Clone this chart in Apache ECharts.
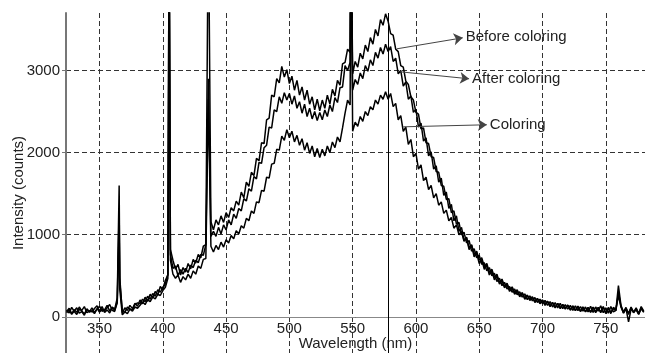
<!DOCTYPE html>
<html><head><meta charset="utf-8">
<script src="https://cdn.jsdelivr.net/npm/echarts@6/dist/echarts.min.js"></script>
<style>html,body{margin:0;padding:0;background:#fff}#c{width:645px;height:353px}</style>
</head><body><div id="c"></div><script>
const wavelengths = [324,326,328,330,332,334,336,338,340,342,
344,346,348,350,352,354,356,358,360,362,
364,365.5,366,368,370,372,374,376,378,380,
382,384,386,388,390,392,394,396,398,400,
402,404,405,406,408,410,412,414,416,418,
420,422,424,426,428,430,432,434,436,438,
440,442,444,446,448,450,452,454,456,458,
460,462,464,466,468,470,472,474,476,478,
480,482,484,486,488,490,492,494,496,498,
500,502,504,506,508,510,512,514,516,518,
520,522,524,526,528,530,532,534,536,538,
540,542,544,546,548,548.6,550,552,554,556,
558,560,562,564,566,568,570,572,574,576,
578,580,582,584,586,588,590,592,594,596,
598,600,602,604,606,608,610,612,614,616,
618,620,622,624,626,628,630,632,634,636,
638,640,642,644,646,648,650,652,654,656,
658,660,662,664,666,668,670,672,674,676,
678,680,682,684,686,688,690,692,694,696,
698,700,702,704,706,708,710,712,714,716,
718,720,722,724,726,728,730,732,734,736,
738,740,742,744,746,748,750,752,754,756,
758,760,762,764,766,768,770,772,774,776,
778,780];

const beforeColoring = [62,105,40,88,55,120,70,35,96,60,
110,52,93,130,68,85,140,72,118,95,
230,1600,480,45,110,78,140,100,165,130,
205,160,240,190,275,232,310,265,370,330,
445,510,5000,820,690,580,640,510,600,545,
650,585,700,655,760,720,860,880,5000,1160,
1060,1180,1120,1230,1150,1270,1210,1330,1290,1410,
1360,1520,1450,1640,1590,1760,1720,1930,1900,2120,
2110,2400,2420,2700,2680,2900,2850,3050,2920,3010,
2840,2930,2760,2880,2700,2800,2640,2760,2590,2680,
2520,2650,2510,2640,2540,2700,2590,2770,2690,2880,
2820,3080,3100,3260,3220,5000,2960,3110,3040,3210,
3140,3310,3230,3400,3320,3500,3420,3620,3550,3690,
3600,3450,3430,3260,3230,3060,3040,2870,2830,2680,
2640,2490,2470,2290,2300,2120,2110,1950,1940,1770,
1760,1600,1590,1430,1440,1270,1290,1130,1150,1000,
1030,900,930,800,830,720,750,640,660,560,
600,500,530,430,470,380,420,340,370,300,
340,270,305,240,280,210,255,195,235,175,
215,160,200,140,185,120,175,110,165,100,
150,95,140,80,135,75,125,70,120,60,
130,55,120,70,135,50,110,45,125,60,
80,380,140,60,115,30,120,55,110,40,
125,70];

const afterColoring = [85,48,115,66,30,92,78,125,50,74,
60,102,135,58,90,75,112,150,80,66,
195,1300,420,70,55,120,95,85,150,170,
160,215,185,250,215,285,250,330,300,360,
400,520,5000,760,590,620,500,575,520,590,
540,630,600,690,660,760,750,880,2900,980,
1040,980,1090,1010,1120,1060,1180,1120,1250,1200,
1320,1290,1440,1410,1560,1530,1710,1680,1880,1870,
2060,2090,2310,2300,2520,2500,2680,2600,2730,2640,
2720,2590,2690,2540,2620,2480,2590,2440,2540,2410,
2500,2390,2490,2400,2520,2440,2580,2500,2670,2610,
2790,2800,3060,3000,3100,5000,2760,2890,2830,2970,
2900,3060,2990,3130,3060,3220,3150,3280,3200,3320,
3230,3290,3110,3150,2960,3000,2810,2860,2650,2690,
2490,2530,2310,2360,2140,2180,1960,2010,1800,1840,
1640,1690,1480,1520,1320,1370,1170,1230,1040,1090,
930,970,820,870,730,780,650,700,580,630,
510,560,450,500,400,440,355,395,310,350,
275,315,245,290,215,260,200,240,175,220,
160,205,140,190,125,175,110,165,100,150,
95,145,80,135,75,130,65,120,60,115,
55,120,60,115,50,125,45,105,40,115,
90,260,120,50,105,45,110,50,100,35,
110,60];

const coloring = [50,88,30,72,110,45,65,20,95,58,
75,40,100,62,125,55,85,48,110,80,
170,1050,330,25,60,40,95,70,120,105,
140,180,150,210,185,240,220,275,260,320,
360,470,4000,690,520,470,510,420,490,450,
520,470,560,520,620,590,700,710,2650,860,
790,870,820,910,850,940,900,990,950,1050,
1010,1110,1080,1200,1170,1290,1260,1400,1390,1540,
1530,1700,1690,1860,1870,2040,2030,2200,2150,2280,
2180,2260,2130,2210,2090,2170,2030,2120,1990,2080,
1950,2050,1940,2040,1960,2080,2000,2130,2060,2190,
2130,2300,2480,2640,2580,5000,2260,2370,2320,2440,
2380,2500,2450,2560,2520,2640,2590,2700,2650,2740,
2650,2720,2560,2600,2400,2450,2260,2310,2100,2160,
1950,1990,1800,1850,1660,1700,1550,1600,1450,1500,
1360,1400,1260,1300,1170,1210,1080,1120,1000,1040,
920,960,840,880,760,800,690,720,610,650,
540,580,480,520,420,460,370,410,330,365,
295,330,260,295,230,265,210,245,185,225,
170,205,155,190,135,175,120,165,110,150,
105,140,90,130,80,125,70,120,65,110,
60,115,50,110,60,120,40,115,55,100,
75,300,130,45,100,-60,95,60,85,30,
100,55];

const xTicks = [350,400,450,500,550,600,650,700,750];
const yTicks = [0,1000,2000,3000];
const mercuryLine = 578.5;
const annotations = [
  {text:'Before coloring', from:[585,3264], to:[637,3398]},
  {text:'After coloring', from:[587.5,2984], to:[642,2899]},
  {text:'Coloring', from:[590,2314], to:[656,2339]}
];

const FONT = 'Liberation Sans, Arial, Helvetica, sans-serif';
const pairs = arr => wavelengths.map((w,i)=>[w, arr[i]]);
const lineSeries = (name, arr) => ({
  name, type:'line', data: pairs(arr), symbol:'none', showSymbol:false,
  lineStyle:{color:'#000', width:1.5}, clip:true, animation:false, silent:true
});

const s1 = lineSeries('Before coloring', beforeColoring);
s1.markLine = {silent:true, symbol:['none','none'], animation:false,
  lineStyle:{color:'#000', type:'solid', width:1}, label:{show:false},
  data:[{xAxis: mercuryLine}]};
const s2 = lineSeries('After coloring', afterColoring);
const s3 = lineSeries('Coloring', coloring);
s3.markLine = {silent:true, animation:false, symbol:['none','arrow'], symbolSize:9,
  lineStyle:{color:'#444', type:'solid', width:1},
  itemStyle:{color:'#111'},
  label:{show:true, position:'end', formatter:'{b}', distance:3, fontSize:15, color:'#222', fontFamily:FONT},
  data: annotations.map(a=>[{coord:a.from, name:a.text},{coord:a.to}])};

const chart = echarts.init(document.getElementById('c'), null, {renderer:'canvas'});
chart.setOption({
  animation:false,
  backgroundColor:'#fff',
  grid:{left:66, right:0, top:13, bottom:0, containLabel:false, outerBoundsMode:'none'},
  xAxis:{
    type:'value', min:323.5, max:781, position:'bottom', offset:-36,
    axisLine:{show:true, onZero:false, lineStyle:{color:'#888', width:1}},
    axisTick:{show:false, customValues:xTicks},
    axisLabel:{customValues:xTicks, margin:4, fontSize:15, color:'#222', fontFamily:FONT, formatter:v=>String(v)},
    splitLine:{show:true, lineStyle:{type:[5,3], color:'#333', width:1}},
    name:'Wavelength (nm)', nameLocation:'middle', nameGap:19, nameMoveOverlap:false,
    nameTextStyle:{fontSize:15, color:'#222', fontFamily:FONT}
  },
  yAxis:{
    type:'value', min:-440, max:3700,
    axisLine:{show:true, onZero:false, lineStyle:{color:'#777', width:2}},
    axisTick:{show:true, length:4, customValues:yTicks, lineStyle:{color:'#777'}},
    axisLabel:{customValues:yTicks, margin:6, fontSize:15, color:'#222', fontFamily:FONT, formatter:v=>String(v)},
    splitLine:{show:true, lineStyle:{type:[5,3], color:'#333', width:1}},
    name:'Intensity (counts)', nameLocation:'middle', nameGap:40, nameMoveOverlap:false,
    nameTextStyle:{fontSize:15, color:'#222', fontFamily:FONT, padding:[0,20,0,0]}
  },
  series:[s1, s2, s3]
});
</script></body></html>
